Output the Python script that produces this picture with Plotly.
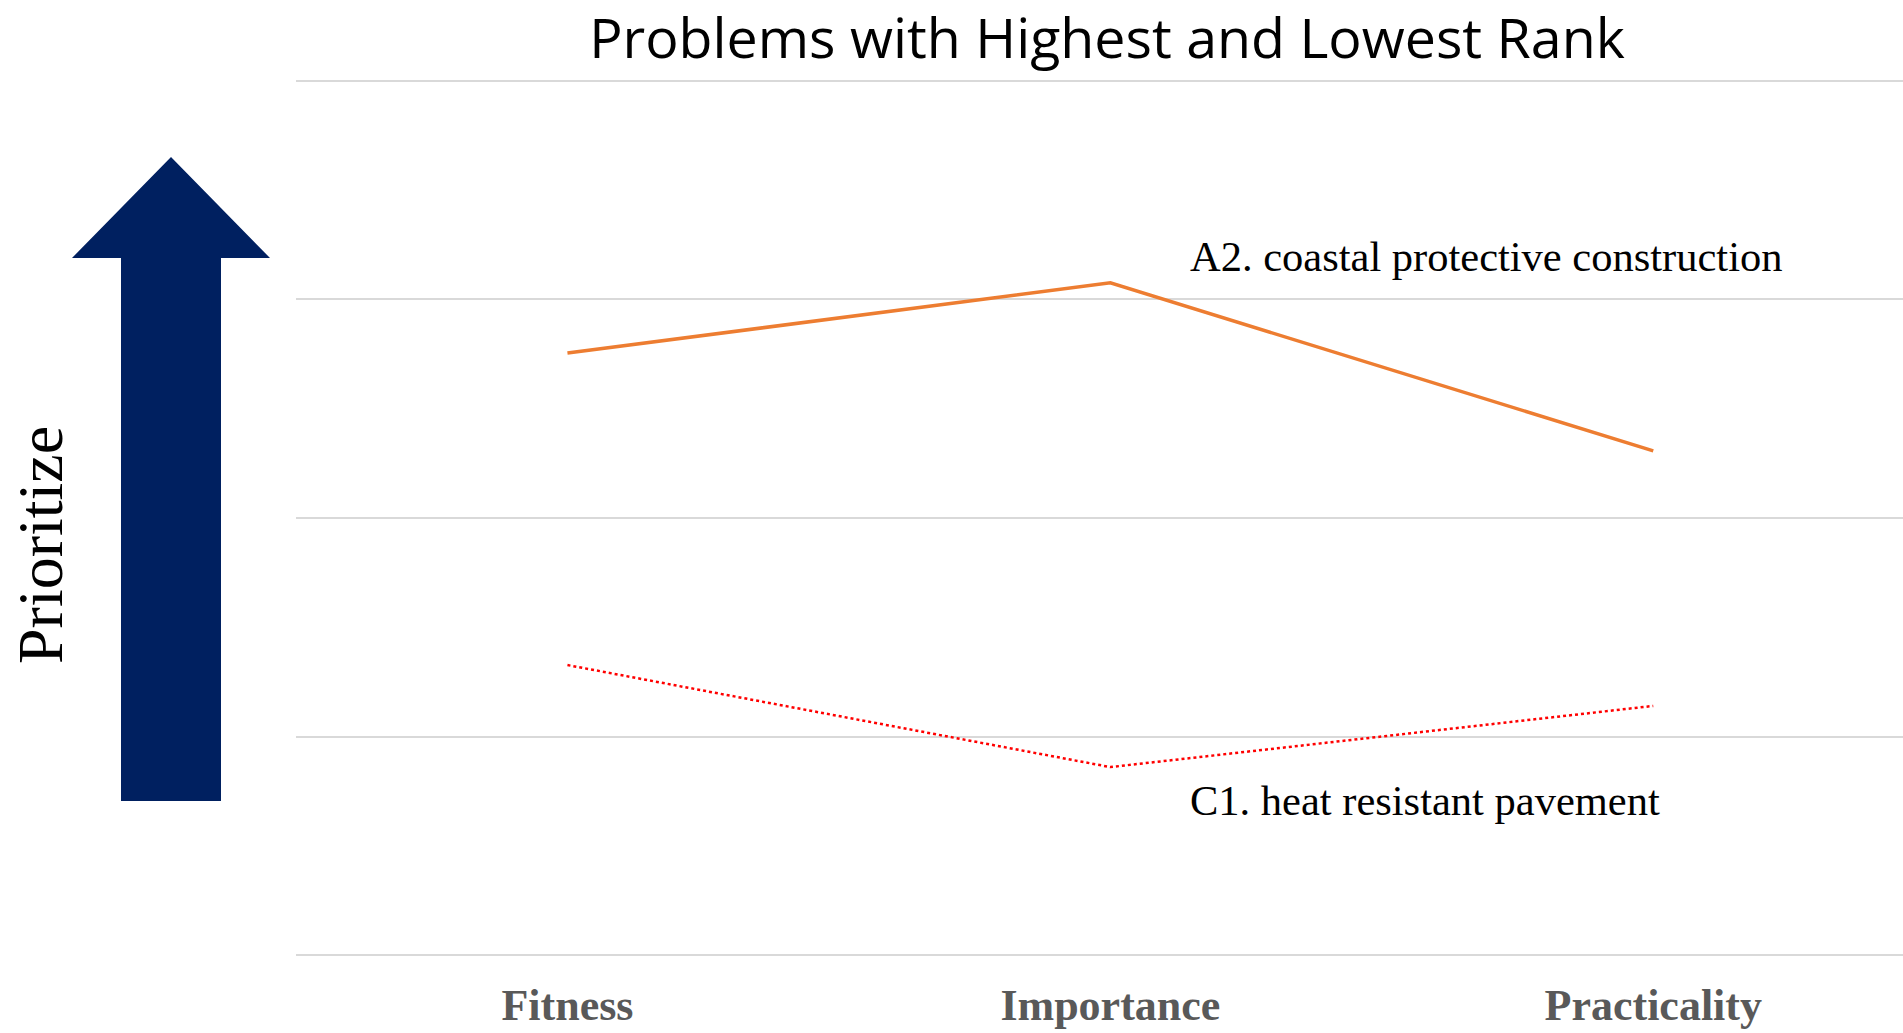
import plotly.graph_objects as go

# Data
categories = ["Fitness", "Importance", "Practicality"]
a2_name = "A2. coastal protective construction"
a2_values = [2.755, 3.076, 2.307]
c1_name = "C1. heat resistant pavement"
c1_values = [1.327, 0.860, 1.140]
y_ticks = [0, 1, 2, 3, 4]

W, H = 1903, 1033
L, R, T, B = 296, 0, 60, 58
pw, ph = W - L - R, H - T - B

def px(xp):
    return (xp - L) / pw

def py(yp):
    return (H - B - yp) / ph

fig = go.Figure()
fig.add_trace(go.Scatter(x=categories, y=a2_values, mode="lines", name=a2_name,
                         line=dict(color="#ED7D31", width=3.5), hoverinfo="skip"))
fig.add_trace(go.Scatter(x=categories, y=c1_values, mode="lines", name=c1_name,
                         line=dict(color="#FF0000", width=2.5, dash="dot"), hoverinfo="skip"))

# Arrow shape (decoration)
pts = [(171, 157), (270, 258), (221, 258), (221, 801), (121, 801), (121, 258), (72, 258)]
path = "M " + " L ".join(f"{px(x):.5f},{py(y):.5f}" for x, y in pts) + " Z"
fig.add_shape(type="path", path=path, xref="paper", yref="paper",
              fillcolor="#002060", line=dict(width=0), layer="above")

serif = "Liberation Serif, Times New Roman, serif"
fig.add_annotation(text="Prioritize", xref="paper", yref="paper", x=px(40), y=py(545),
                   textangle=-90, showarrow=False, xanchor="center", yanchor="middle",
                   font=dict(family=serif, size=64, color="black"))
fig.add_annotation(text=a2_name, x=1.143, y=3.199, xref="x", yref="y", showarrow=False,
                   xanchor="left", yanchor="middle",
                   font=dict(family=serif, size=42.5, color="black"))
fig.add_annotation(text=c1_name, x=1.143, y=0.705, xref="x", yref="y", showarrow=False,
                   xanchor="left", yanchor="middle",
                   font=dict(family=serif, size=42.5, color="black"))

fig.update_layout(
    width=W, height=H,
    margin=dict(l=L, r=R, t=T, b=B),
    paper_bgcolor="white", plot_bgcolor="white",
    showlegend=False,
    title=dict(text="Problems with Highest and Lowest Rank", x=px(1107), xref="paper",
               y=1 - 39 / H, yref="container", xanchor="center", yanchor="middle",
               font=dict(family="Open Sans, sans-serif", size=55.5, color="black")),
    xaxis=dict(type="category", range=[-0.5, 2.46], showgrid=False, zeroline=False,
               showline=False, ticks="",
               tickfont=dict(family=serif, size=44, color="#595959", weight="bold")),
    yaxis=dict(range=[-0.0915, 4.096], tickvals=y_ticks, showticklabels=False,
               showgrid=True, gridcolor="#D9D9D9", gridwidth=1.5, zeroline=False,
               showline=False, ticks=""),
)

fig.write_html("out.html")
